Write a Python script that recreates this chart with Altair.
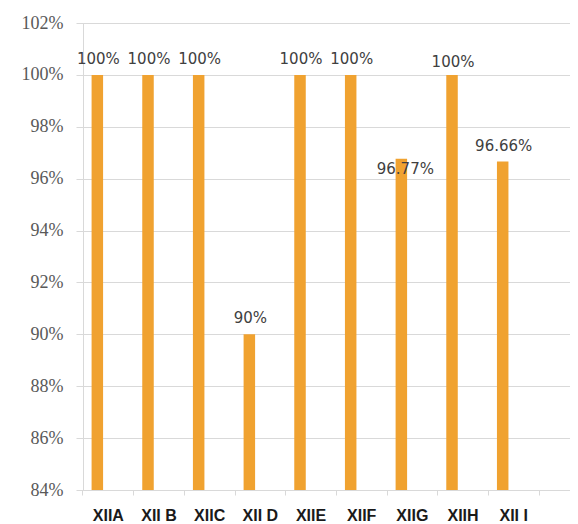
import altair as alt
import pandas as pd

classes = ["XIIA", "XII B", "XIIC", "XII D", "XIIE", "XIIF", "XIIG", "XIIH", "XII I"]
values = [100, 100, 100, 90, 100, 100, 96.77, 100, 96.66]
y_ticks = [84, 86, 88, 90, 92, 94, 96, 98, 100, 102]

df = pd.DataFrame({"cls": classes, "value": values})

x_domain = classes + [""]
band_total = 506.7
x_scale = alt.Scale(domain=x_domain, range=[0, band_total], paddingInner=0, paddingOuter=0)
y_scale = alt.Scale(domain=[84, 102], nice=False, zero=False)

x_enc = alt.X("cls:N", sort=None, scale=x_scale, title=None)
y_enc = alt.Y("value:Q", scale=y_scale, title=None)

base = alt.Chart(df)

bars = base.mark_bar(width=11.5, xOffset=-11, color="#F0A230", clip=True).encode(
    x=x_enc, y=y_enc
)

text_props = dict(
    font="DejaVu Sans",
    fontSize=15,
    color="#404040",
    baseline="bottom",
    align="center",
    xOffset=-10,
)

label_calc = "datum.value + '%'"

labels_main = base.transform_filter(
    "datum.cls != 'XIIG' && datum.cls != 'XIIH'"
).transform_calculate(label=label_calc).mark_text(dy=-8, **text_props).encode(
    x=x_enc, y=y_enc, text="label:N"
)

labels_h = base.transform_filter("datum.cls == 'XIIH'").transform_calculate(
    label=label_calc
).mark_text(dy=-5, **text_props).encode(x=x_enc, y=y_enc, text="label:N")

labels_g = base.transform_filter("datum.cls == 'XIIG'").transform_calculate(
    label=label_calc
).mark_text(dy=18, **{**text_props, "xOffset": -7}).encode(x=x_enc, y=y_enc, text="label:N")

chart = (
    alt.layer(bars, labels_main, labels_h, labels_g)
    .properties(
        width=487,
        height=467,
        autosize=alt.AutoSizeParams(type="none"),
        padding={"left": 75, "top": 15, "right": 0, "bottom": 33},
    )
    .configure_view(stroke=None)
    .configure(background="white")
    .configure_axisX(
        labelAngle=0,
        bandPosition=0,
        ticks=True,
        tickSize=5,
        tickColor="#d9d9d9",
        domainColor="#d9d9d9",
        labelFont="Liberation Sans",
        labelFontWeight="bold",
        labelFontSize=16,
        labelColor="#1a1a1a",
        labelPadding=12,
        labelBaseline="top",
        grid=False,
    )
    .configure_axisY(
        values=y_ticks,
        labelExpr="datum.value + '%'",
        labelFont="Liberation Serif, Times New Roman, serif",
        labelFontSize=18,
        labelColor="#595959",
        tickSize=7,
        tickColor="#d9d9d9",
        domainColor="#d9d9d9",
        labelPadding=13,
        grid=True,
        gridColor="#d9d9d9",
        gridWidth=1.2,
    )
)

chart.save("out.html", embed_options={"renderer": "svg", "actions": False})
